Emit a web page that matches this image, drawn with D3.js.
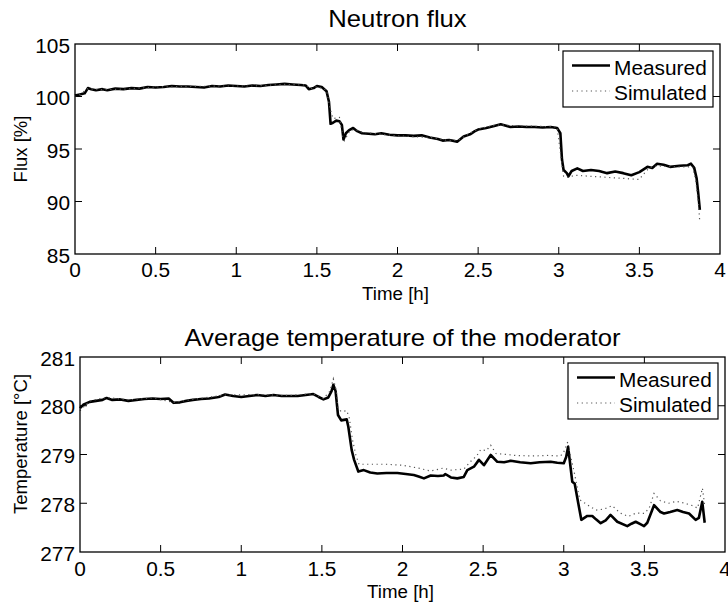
<!DOCTYPE html>
<html>
<head>
<meta charset="utf-8">
<script src="https://cdn.jsdelivr.net/npm/d3@7"></script>
<style>
  body { margin: 0; background: #fff; }
  svg { display: block; font-family: "Liberation Sans", Arial, sans-serif; }
</style>
</head>
<body>
<svg id="chart" width="728" height="603"></svg>
<script>
// ---- data (time in hours) ----
const xTicks = [0, 0.5, 1, 1.5, 2, 2.5, 3, 3.5, 4];
const fluxTicks = [85, 90, 95, 100, 105];
const tempTicks = [277, 278, 279, 280, 281];
const legendLabels = ['Measured', 'Simulated'];

const fluxMeasured = [
  [0, 100.1], [0.03, 100.2], [0.06, 100.3], [0.08, 100.8], [0.1, 100.7], [0.13, 100.6],
  [0.17, 100.7], [0.2, 100.6], [0.25, 100.75], [0.3, 100.7], [0.35, 100.8], [0.4, 100.75],
  [0.45, 100.9], [0.5, 100.85], [0.55, 100.9], [0.6, 101.0], [0.65, 100.95], [0.7, 100.95],
  [0.75, 100.9], [0.8, 100.85], [0.85, 101.0], [0.9, 100.95], [0.95, 101.05], [1.0, 101.0],
  [1.05, 100.95], [1.1, 101.05], [1.15, 101.0], [1.2, 101.1], [1.25, 101.15], [1.3, 101.2],
  [1.35, 101.15], [1.4, 101.1], [1.43, 101.05], [1.45, 100.7], [1.48, 100.8], [1.5, 101.0],
  [1.53, 100.9], [1.56, 100.5], [1.575, 99.5], [1.585, 97.4], [1.6, 97.5], [1.62, 97.7],
  [1.64, 97.65], [1.655, 97.3], [1.665, 95.9], [1.68, 96.5], [1.7, 96.8], [1.725, 97.0],
  [1.75, 96.7], [1.78, 96.5], [1.82, 96.45], [1.86, 96.4], [1.9, 96.5], [1.95, 96.35],
  [2.0, 96.3], [2.05, 96.3], [2.1, 96.25], [2.15, 96.3], [2.2, 96.1], [2.25, 95.95],
  [2.28, 95.8], [2.32, 95.85], [2.37, 95.7], [2.41, 96.2], [2.45, 96.4], [2.48, 96.7],
  [2.5, 96.85], [2.55, 97.0], [2.6, 97.2], [2.64, 97.35], [2.7, 97.1], [2.75, 97.15],
  [2.8, 97.1], [2.85, 97.1], [2.9, 97.05], [2.95, 97.1], [2.99, 97.0], [3.01, 96.5],
  [3.02, 94.0], [3.03, 93.0], [3.05, 92.7], [3.06, 92.4], [3.08, 92.9], [3.115, 93.15],
  [3.15, 92.9], [3.2, 93.0], [3.25, 92.9], [3.3, 92.7], [3.35, 92.85], [3.4, 92.7],
  [3.45, 92.5], [3.5, 92.8], [3.55, 93.3], [3.58, 93.2], [3.61, 93.6], [3.65, 93.5],
  [3.69, 93.3], [3.75, 93.4], [3.8, 93.45], [3.82, 93.6], [3.84, 93.2], [3.855, 92.2],
  [3.865, 90.8], [3.875, 89.2]
];

const fluxSimulated = [
  [0, 100.0], [0.04, 100.3], [0.08, 100.75], [0.15, 100.65], [0.3, 100.7], [0.5, 100.9],
  [0.7, 100.95], [0.9, 101.0], [1.1, 101.0], [1.3, 101.15], [1.43, 101.1], [1.46, 100.75],
  [1.5, 100.95], [1.56, 100.6], [1.58, 99.0], [1.6, 97.9], [1.64, 98.0], [1.66, 96.2],
  [1.67, 95.8], [1.7, 96.6], [1.73, 96.9], [1.78, 96.6], [1.9, 96.4], [2.0, 96.25],
  [2.2, 96.1], [2.3, 95.85], [2.37, 95.8], [2.45, 96.5], [2.5, 96.9], [2.6, 97.25],
  [2.64, 97.3], [2.75, 97.2], [2.9, 97.15], [2.99, 97.1], [3.02, 93.5], [3.03, 92.4],
  [3.06, 92.3], [3.1, 92.5], [3.2, 92.4], [3.3, 92.3], [3.4, 92.2], [3.5, 92.1],
  [3.52, 92.5], [3.56, 93.2], [3.61, 93.4], [3.7, 93.3], [3.8, 93.3], [3.83, 93.3],
  [3.85, 92.0], [3.865, 90.0], [3.875, 88.0]
];

const tempMeasured = [
  [0, 279.95], [0.02, 280.02], [0.06, 280.08], [0.1, 280.1], [0.14, 280.12], [0.165, 280.16],
  [0.2, 280.12], [0.25, 280.13], [0.3, 280.1], [0.35, 280.12], [0.4, 280.14], [0.45, 280.15],
  [0.5, 280.14], [0.55, 280.15], [0.58, 280.06], [0.62, 280.07], [0.66, 280.1], [0.7, 280.12],
  [0.75, 280.14], [0.8, 280.15], [0.86, 280.18], [0.9, 280.23], [0.95, 280.2], [1.0, 280.18],
  [1.05, 280.2], [1.1, 280.22], [1.15, 280.2], [1.2, 280.22], [1.25, 280.2], [1.3, 280.2],
  [1.35, 280.2], [1.4, 280.22], [1.447, 280.24], [1.48, 280.18], [1.51, 280.13], [1.54, 280.17],
  [1.56, 280.3], [1.571, 280.43], [1.585, 280.3], [1.6, 279.81], [1.62, 279.7], [1.654, 279.72],
  [1.664, 279.57], [1.685, 279.09], [1.7, 278.89], [1.726, 278.65], [1.76, 278.68], [1.8, 278.63],
  [1.844, 278.61], [1.9, 278.62], [1.968, 278.62], [2.02, 278.6], [2.07, 278.58], [2.1, 278.55],
  [2.133, 278.51], [2.175, 278.57], [2.22, 278.56], [2.257, 278.57], [2.265, 278.6], [2.3, 278.53],
  [2.34, 278.51], [2.38, 278.54], [2.402, 278.68], [2.443, 278.75], [2.474, 278.89], [2.505, 278.78],
  [2.547, 278.99], [2.588, 278.85], [2.63, 278.84], [2.671, 278.87], [2.73, 278.84], [2.795, 278.82],
  [2.85, 278.84], [2.919, 278.85], [2.96, 278.83], [3.0, 278.82], [3.015, 278.95], [3.027, 279.16],
  [3.04, 278.8], [3.053, 278.44], [3.068, 278.4], [3.09, 278.0], [3.109, 277.66], [3.146, 277.74],
  [3.177, 277.74], [3.2, 277.67], [3.229, 277.59], [3.26, 277.65], [3.29, 277.76], [3.332, 277.62],
  [3.394, 277.53], [3.42, 277.58], [3.446, 277.62], [3.475, 277.57], [3.498, 277.53], [3.518, 277.6],
  [3.56, 277.96], [3.6, 277.82], [3.622, 277.79], [3.66, 277.82], [3.704, 277.86], [3.74, 277.82],
  [3.777, 277.79], [3.818, 277.66], [3.838, 277.7], [3.859, 278.03], [3.874, 277.6]
];

const tempSimulated = [
  [0, 279.9], [0.06, 280.1], [0.165, 280.17], [0.3, 280.12], [0.45, 280.16], [0.58, 280.07],
  [0.7, 280.13], [0.9, 280.22], [1.1, 280.23], [1.3, 280.21], [1.447, 280.25], [1.51, 280.15],
  [1.55, 280.3], [1.571, 280.55], [1.59, 280.3], [1.6, 279.95], [1.62, 279.88], [1.654, 279.9],
  [1.67, 279.75], [1.69, 279.3], [1.71, 279.0], [1.73, 278.8], [1.8, 278.8], [1.9, 278.8],
  [2.0, 278.78], [2.1, 278.72], [2.175, 278.66], [2.25, 278.72], [2.3, 278.68], [2.38, 278.7],
  [2.42, 278.85], [2.46, 278.97], [2.485, 279.1], [2.52, 279.08], [2.547, 279.19], [2.58, 279.02],
  [2.65, 279.0], [2.7, 278.98], [2.8, 278.97], [2.9, 278.98], [2.98, 278.97], [3.0, 279.05],
  [3.025, 279.26], [3.04, 279.0], [3.066, 278.62], [3.085, 278.3], [3.1, 278.07], [3.15, 277.96],
  [3.2, 277.86], [3.25, 277.88], [3.3, 277.95], [3.35, 277.8], [3.4, 277.73], [3.45, 277.8],
  [3.5, 277.79], [3.53, 277.9], [3.56, 278.2], [3.6, 278.05], [3.65, 278.0], [3.7, 278.04],
  [3.75, 278.0], [3.8, 277.95], [3.83, 277.9], [3.86, 278.31], [3.874, 277.95]
];

// ---- drawing ----
const svg = d3.select('#chart');
const sx = 1.07; // the source figure is a bit stretched horizontally

function label(g, x, y, txt, size, anchor) {
  return g.append('text')
    .attr('transform', `translate(${x},${y}) scale(${sx},1)`)
    .attr('text-anchor', anchor || 'middle')
    .style('font-size', size + 'px')
    .attr('fill', '#000')
    .text(txt);
}

function drawPanel(p) {
  const x = d3.scaleLinear().domain([0, 4]).range([p.left, p.right]);
  const y = d3.scaleLinear().domain(p.yDomain).range([p.bottom, p.top]);
  const g = svg.append('g');
  const tick = 7;

  // ticks on all four sides, pointing inward
  xTicks.slice(1, -1).forEach(t => {
    g.append('line').attr('x1', x(t)).attr('x2', x(t)).attr('y1', p.bottom).attr('y2', p.bottom - tick)
      .attr('stroke', '#000').attr('stroke-width', 1);
    g.append('line').attr('x1', x(t)).attr('x2', x(t)).attr('y1', p.top).attr('y2', p.top + tick)
      .attr('stroke', '#000').attr('stroke-width', 1);
  });
  p.yTicks.slice(1, -1).forEach(v => {
    g.append('line').attr('x1', p.left).attr('x2', p.left + tick).attr('y1', y(v)).attr('y2', y(v))
      .attr('stroke', '#000').attr('stroke-width', 1);
    g.append('line').attr('x1', p.right).attr('x2', p.right - tick).attr('y1', y(v)).attr('y2', y(v))
      .attr('stroke', '#000').attr('stroke-width', 1);
  });

  // tick labels
  xTicks.forEach(t => label(g, x(t), p.bottom + p.xTickDy, d3.format('~g')(t), 19.5));
  p.yTicks.forEach(v => label(g, p.left - 5, y(v) + 8.5, v, 19.5, 'end'));

  // lines
  const line = d3.line().x(d => x(d[0])).y(d => y(d[1]));
  g.append('path').datum(p.measured).attr('d', line)
    .attr('fill', 'none').attr('stroke', '#000').attr('stroke-width', 2.6).attr('stroke-linejoin', 'round');
  g.append('path').datum(p.simulated).attr('d', line)
    .attr('fill', 'none').attr('stroke', '#555').attr('stroke-width', 1.2).attr('stroke-dasharray', '1.2,3.5');

  // frame
  g.append('rect').attr('x', p.left).attr('y', p.top)
    .attr('width', p.right - p.left).attr('height', p.bottom - p.top)
    .attr('fill', 'none').attr('stroke', '#000').attr('stroke-width', 1.3);

  // titles and axis labels
  label(g, (p.left + p.right) / 2, p.titleY, p.title, 24);
  label(g, (p.left + p.right) / 2 - 2, p.bottom + 46, 'Time [h]', 17.5);
  g.append('text')
    .attr('transform', `translate(27,${p.yLabelY}) rotate(-90)`)
    .attr('text-anchor', 'middle')
    .style('font-size', '18.5px')
    .text(p.yLabel);

  // legend
  const L = p.legend;
  const lg = g.append('g');
  lg.append('rect').attr('x', L.x).attr('y', L.y).attr('width', L.w).attr('height', L.h)
    .attr('fill', '#fff').attr('stroke', '#000').attr('stroke-width', 1.2);
  legendLabels.forEach((name, i) => {
    const ly = L.y + 14.5 + i * 25.5;
    const ln = lg.append('line').attr('x1', L.x + 9).attr('x2', L.x + 47).attr('y1', ly).attr('y2', ly);
    if (i === 0) ln.attr('stroke', '#000').attr('stroke-width', 2.6);
    else ln.attr('stroke', '#555').attr('stroke-width', 1.2).attr('stroke-dasharray', '1.2,3.5');
    label(lg, L.x + 51, ly + 9, name, 19.5, 'start');
  });
}

drawPanel({
  left: 75, right: 720, top: 44, bottom: 254,
  yDomain: [85, 105], yTicks: fluxTicks, xTickDy: 23,
  measured: fluxMeasured, simulated: fluxSimulated,
  title: 'Neutron flux', titleY: 27,
  yLabel: 'Flux [%]', yLabelY: 149,
  legend: { x: 563, y: 51, w: 150, h: 56 }
});

drawPanel({
  left: 80, right: 725, top: 357, bottom: 552,
  yDomain: [277, 281], yTicks: tempTicks, xTickDy: 24,
  measured: tempMeasured, simulated: tempSimulated,
  title: 'Average temperature of the moderator', titleY: 346,
  yLabel: 'Temperature [°C]', yLabelY: 444,
  legend: { x: 568, y: 363, w: 150, h: 56 }
});
</script>
</body>
</html>
